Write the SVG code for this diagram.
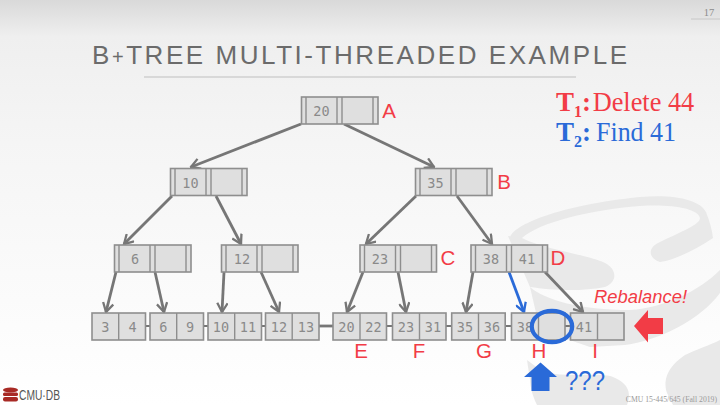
<svg xmlns="http://www.w3.org/2000/svg" width="720" height="405" viewBox="0 0 720 405">
<defs>
<linearGradient id="bg" x1="0" y1="0" x2="0" y2="1"><stop offset="0" stop-color="#d9d9d9"/><stop offset="0.09" stop-color="#efefef"/><stop offset="0.35" stop-color="#f5f5f5"/><stop offset="1" stop-color="#ffffff"/></linearGradient>
<marker id="ah" viewBox="0 0 12 12" refX="10.500" refY="6" markerWidth="12" markerHeight="12" markerUnits="userSpaceOnUse" orient="auto"><path d="M1.500 0.800L10.500 6L1.500 11.200" fill="none" stroke="#767676" stroke-width="2.300"/></marker>
<marker id="ahb" viewBox="0 0 12 12" refX="10.500" refY="6" markerWidth="12" markerHeight="12" markerUnits="userSpaceOnUse" orient="auto"><path d="M1.500 0.800L10.500 6L1.500 11.200" fill="none" stroke="#2a6ad8" stroke-width="2.300"/></marker>
</defs>
<style>
.box{fill:#dfdfdf;stroke:#8e8e8e;stroke-width:1.6}
.d{fill:none;stroke:#8e8e8e;stroke-width:1.4}
.k{font-family:"DejaVu Sans Mono",monospace;font-size:13.5px;fill:#8a8a8a;text-anchor:middle}
.l{font-family:"Liberation Sans",Arial,sans-serif;font-size:20.5px;fill:#f23c46;text-anchor:middle}
.c{fill:none;stroke:#767676;stroke-width:2.800;marker-end:url(#ah)}
.s{stroke:#767676;stroke-width:2.2;fill:none}
.t{font-family:"Liberation Serif",serif;font-size:27px}
</style>
<rect width="720" height="405" fill="url(#bg)"/>
<g id="watermark" fill="#e9e9e9">
<path d="M510 238C512 225 560 205 640 197C675 194 700 200 706 212C710 222 712 230 713 238C695 250 675 260 660 262C648 258 648 248 658 243C680 232 700 225 700 218C698 208 670 204 640 206C590 210 540 222 522 238Z"/>
<path d="M508 236L522 238C545 250 590 255 605 263C618 270 617 282 605 287C580 292 550 290 530 287Z"/>
<path d="M530 287C545 300 580 310 630 310C665 308 700 290 720 270L720 293C700 320 660 340 625 345L590 347L540 330Z"/>
<path d="M667 393C662 378 670 365 685 355C695 350 710 345 720 340L720 405L673 405Z"/>
<path d="M527 360L543 372C570 378 600 372 613 377C628 383 632 393 627 405L537 405C532 395 530 385 530 380Z"/>
</g>
<g id="header">
<text x="92" y="64" font-family="Liberation Sans,Arial,sans-serif" font-size="26px" fill="#6b6b6b" textLength="535" lengthAdjust="spacing">B<tspan font-size="20px">+</tspan>TREE MULTI-THREADED EXAMPLE</text>
<line x1="144" y1="77" x2="576" y2="77" stroke="#cfcfcf" stroke-width="1.6"/>
<text x="709" y="16" font-family="Liberation Serif,serif" font-size="10.5px" fill="#8c8c8c" text-anchor="middle">17</text>
<line x1="691" y1="19" x2="720" y2="19" stroke="#d0d0d0" stroke-width="1.4"/>
</g>
<g id="connectors">
<path class="c" d="M301 124L191 167"/>
<path class="c" d="M344 124L434 167"/>
<path class="c" d="M172 196L124 244"/>
<path class="c" d="M216 196L241 244"/>
<path class="c" d="M416 196L366 244"/>
<path class="c" d="M457 196L492 244"/>
<path class="c" d="M116 272L106 312"/>
<path class="c" d="M155 272L164 312"/>
<path class="c" d="M224 272L222 312"/>
<path class="c" d="M261 272L279 312"/>
<path class="c" d="M363 272L347 312"/>
<path class="c" d="M398 272L406 312"/>
<path class="c" d="M473 272L466 312"/>
<path class="c" d="M545 272L583 312"/>
<path d="M509 272L524 312" fill="none" stroke="#2a6ad8" stroke-width="2.800" marker-end="url(#ahb)"/>
<path class="s" d="M146 326H150M203 326H208M261 326H265"/>
<path d="M319 326H333" stroke="#767676" stroke-width="2.8"/>
<path class="s" d="M387 326H393M446 326H452M505 326H511M565 326H570"/>
</g>
<g id="n20"><rect class="box" x="301.500" y="97" width="76.500" height="27"/><path class="d" d="M306 97V124M337 97V124M342 97V124M373 97V124"/><text class="k" x="321.500" y="116">20</text></g>
<g id="n10"><rect class="box" x="170.500" y="168.500" width="76.500" height="27"/><path class="d" d="M175 168.500V195.500M206 168.500V195.500M211 168.500V195.500M242 168.500V195.500"/><text class="k" x="190.500" y="187.500">10</text></g>
<g id="n35"><rect class="box" x="415.500" y="168.500" width="76.500" height="27"/><path class="d" d="M420 168.500V195.500M451 168.500V195.500M456 168.500V195.500M487 168.500V195.500"/><text class="k" x="435.500" y="187.500">35</text></g>
<g id="n6"><rect class="box" x="114.500" y="245" width="76.500" height="27"/><path class="d" d="M119 245V272M150 245V272M155 245V272M186 245V272"/><text class="k" x="135" y="264">6</text></g>
<g id="n12"><rect class="box" x="221.500" y="245" width="76.500" height="27"/><path class="d" d="M226 245V272M257 245V272M262 245V272M293 245V272"/><text class="k" x="242" y="264">12</text></g>
<g id="n23"><rect class="box" x="360" y="245" width="76.500" height="27"/><path class="d" d="M364.500 245V272M395.500 245V272M400.500 245V272M431.500 245V272"/><text class="k" x="380" y="264">23</text></g>
<g id="n38"><rect class="box" x="471" y="245" width="76.500" height="27"/><path class="d" d="M475.500 245V272M506.500 245V272M511.500 245V272M542.500 245V272"/><text class="k" x="491" y="264">38</text><text class="k" x="527" y="264">41</text></g>
<g id="l1"><rect class="box" x="92" y="313" width="53.500" height="27"/><path class="d" d="M118.700 313V340"/><text class="k" x="105.300" y="332">3</text><text class="k" x="132.500" y="332">4</text></g>
<g id="l2"><rect class="box" x="150" y="313" width="53.500" height="27"/><path class="d" d="M176.700 313V340"/><text class="k" x="163.300" y="332">6</text><text class="k" x="190" y="332">9</text></g>
<g id="l3"><rect class="box" x="208" y="313" width="53.500" height="27"/><path class="d" d="M234.700 313V340"/><text class="k" x="221" y="332">10</text><text class="k" x="248" y="332">11</text></g>
<g id="l4"><rect class="box" x="265.500" y="313" width="53.500" height="27"/><path class="d" d="M292.200 313V340"/><text class="k" x="279" y="332">12</text><text class="k" x="306" y="332">13</text></g>
<g id="l5"><rect class="box" x="333" y="313" width="53.500" height="27"/><path class="d" d="M360 313V340"/><text class="k" x="346.500" y="332">20</text><text class="k" x="373.500" y="332">22</text></g>
<g id="l6"><rect class="box" x="392.500" y="313" width="53.500" height="27"/><path class="d" d="M419.500 313V340"/><text class="k" x="406" y="332">23</text><text class="k" x="433" y="332">31</text></g>
<g id="l7"><rect class="box" x="451.700" y="313" width="53.500" height="27"/><path class="d" d="M478.500 313V340"/><text class="k" x="465" y="332">35</text><text class="k" x="492" y="332">36</text></g>
<g id="l8"><rect class="box" x="511.500" y="313" width="53.500" height="27"/><path class="d" d="M538.500 313V340"/><text class="k" x="525" y="332">38</text></g>
<g id="l9"><rect class="box" x="570.500" y="313" width="53.500" height="27"/><path class="d" d="M597.500 313V340"/><text class="k" x="584" y="332">41</text></g>
<g id="labels">
<text class="l" x="389" y="118">A</text><text class="l" x="504" y="189">B</text><text class="l" x="448" y="265">C</text><text class="l" x="558" y="265">D</text>
<text class="l" x="361" y="358">E</text><text class="l" x="419" y="358">F</text><text class="l" x="484" y="358">G</text><text class="l" x="539" y="358">H</text><text class="l" x="595" y="358">I</text>
<text x="594" y="303" font-family="Liberation Sans,Arial,sans-serif" font-size="18.400px" font-style="italic" fill="#f23c46">Rebalance!</text>
</g>
<g id="thread-legend">
<text class="t" x="556" y="111" fill="#f23c46" font-weight="bold">T<tspan font-size="16px" dy="6">1</tspan><tspan dy="-6">:</tspan></text>
<text class="t" x="592.700" y="111" fill="#f23c46" textLength="101.500" lengthAdjust="spacingAndGlyphs">Delete 44</text>
<text class="t" x="556" y="141" fill="#2a6ad8" font-weight="bold">T<tspan font-size="16px" dy="6">2</tspan><tspan dy="-6">:</tspan></text>
<text class="t" x="596" y="141" fill="#2a6ad8" textLength="80" lengthAdjust="spacingAndGlyphs">Find 41</text>
</g>
<ellipse id="highlight" cx="552" cy="326.500" rx="20.200" ry="15.700" fill="none" stroke="#2a6ad8" stroke-width="4.200"/>
<polygon id="red-arrow" points="634,326 648,310 648,318 663,318 663,334 648,334 648,342.500" fill="#f23c46"/>
<polygon id="blue-arrow" points="540.500,362.500 557,377 549.500,377 549.500,391 531.500,391 531.500,377 524,377" fill="#2a6ad8"/>
<text x="565" y="389.500" font-family="Liberation Sans,Arial,sans-serif" font-size="28px" fill="#2a6ad8" textLength="40" lengthAdjust="spacingAndGlyphs">???</text>
<g id="footer">
<g fill="#a82a25"><ellipse cx="10.500" cy="390" rx="7.500" ry="2.500"/><rect x="3" y="392.500" width="15" height="3.500" rx="1.500"/><rect x="3" y="397" width="15" height="4.500" rx="2"/></g>
<text x="19" y="400" font-family="Liberation Sans,Arial,sans-serif" font-size="14px" fill="#555" textLength="41" lengthAdjust="spacingAndGlyphs">CMU·DB</text>
<text x="717" y="402" font-family="Liberation Serif,serif" font-size="7.700px" fill="#999" text-anchor="end">CMU 15-445/645 (Fall 2019)</text>
</g>
</svg>
